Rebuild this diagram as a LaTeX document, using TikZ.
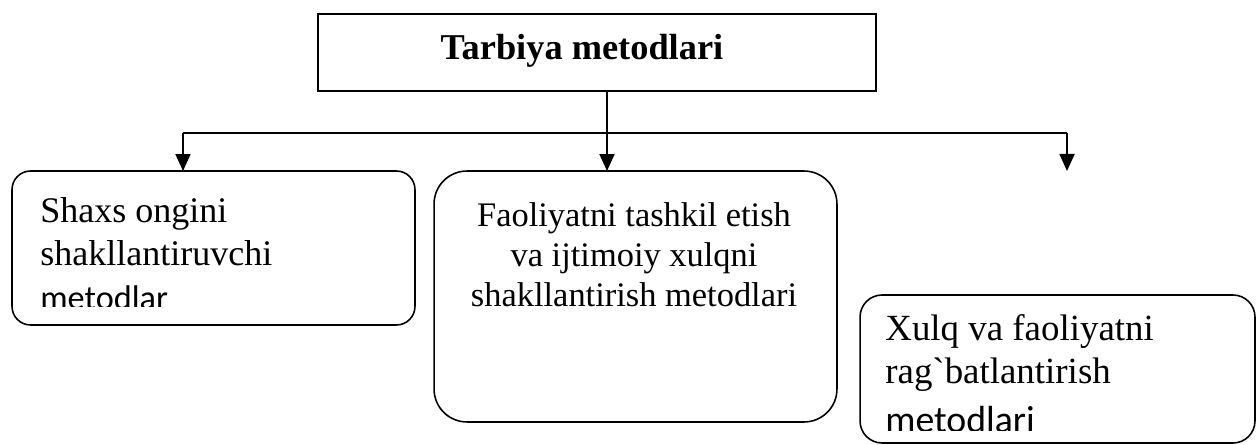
\documentclass[tikz,border=0pt]{standalone}
\usepackage{fontspec}
\setmainfont{Liberation Serif}
\newfontfamily\plainserif{Liberation Serif}
\newfontfamily\cutfont{Carlito}
\usetikzlibrary{arrows.meta}

\tikzset{
    headbox/.style={draw, line width=1.1pt, inner sep=0pt, outer sep=0pt},
    methodbox/.style={draw, line width=0.9pt, inner sep=0pt, outer sep=0pt},
    line/.style={line width=1pt},
    arrow/.style={line width=1pt, -{Triangle[width=0.3cm,length=0.34cm]}},
    lefttext/.style={anchor=base west, inner sep=0pt, font=\fontsize{20.5}{24}\selectfont},
    midtext/.style={anchor=base, inner sep=0pt, font=\fontsize{19.6}{23}\selectfont},
    righttext/.style={anchor=base west, inner sep=0pt, font=\fontsize{21}{25}\selectfont},
}

\begin{document}
\begin{tikzpicture}[x=0.02cm, y=-0.02cm]

    % Canvas
    \useasboundingbox (0,0) rectangle (1256,445);

    % Title box
    \node[headbox, minimum width=11.16cm, minimum height=1.54cm] (title) at (597,52.5) {};
    \node[anchor=base, inner sep=0pt, font=\fontsize{20.7}{24}\selectfont\bfseries] (titletext) at (582,60) {Tarbiya metodlari};

    % Method boxes
    \node[methodbox, rounded corners=0.37cm, minimum width=8.06cm, minimum height=3.08cm] (ong) at (213.5,248) {};
    \node[methodbox, rounded corners=0.66cm, minimum width=8.06cm, minimum height=5.02cm] (faol) at (635.5,296.5) {};
    \node[methodbox, rounded corners=0.44cm, minimum width=7.9cm, minimum height=2.96cm] (xulq) at (1057.5,369) {};

    % Left box text
    \node[lefttext] (ong1) at (40,223) {Shaxs ongini};
    \node[lefttext] (ong2) at (40,266) {shakllantiruvchi};
    \begin{scope}
        \clip (0,0) rectangle (430,307);
        \node[lefttext, font=\fontsize{19.5}{23}\cutfont] (ong3) at (40,310) {metodlar};
    \end{scope}

    % Middle box text
    \node[midtext] (faol1) at (634,227) {Faoliyatni tashkil etish};
    \node[midtext] (faol2) at (634,267) {va ijtimoiy xulqni};
    \node[midtext] (faol3) at (634,307) {shakllantirish metodlari};

    % Right box text
    \node[righttext] (xulq1) at (885,341) {Xulq va faoliyatni};
    \node[righttext] (xulq2) at (885,383) {\plainserif rag`batlantirish};
    \begin{scope}
        \clip (850,0) rectangle (1256,430);
        \node[righttext, font=\fontsize{21.5}{25}\cutfont] (xulq3) at (885,432) {metodlari};
    \end{scope}

    % Connectors
    \coordinate (drop) at (607,91);
    \coordinate (barL) at (183,133);
    \coordinate (barR) at (1067,133);
    \coordinate (tipR) at (1067,171);

    \draw[line] (barL) -- (barR);
    \draw[arrow] (drop) -- (drop |- faol.north);
    \draw[arrow] (barL) -- (barL |- ong.north);
    \draw[arrow] (barR) -- (tipR);

\end{tikzpicture}
\end{document}
